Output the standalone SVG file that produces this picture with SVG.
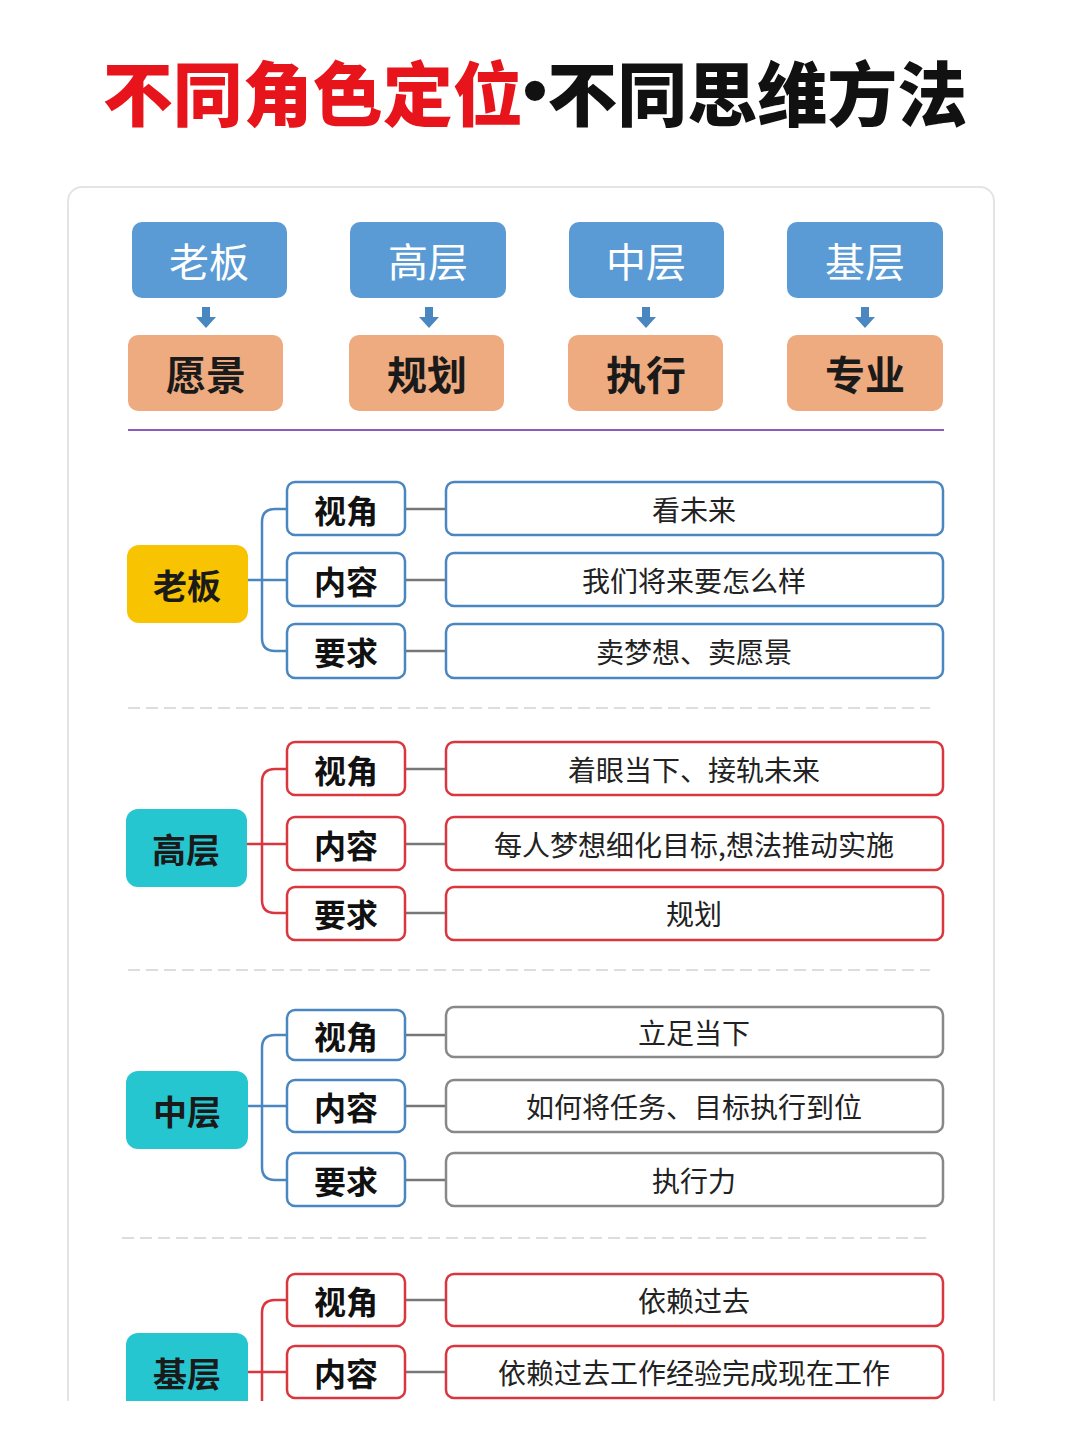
<svg xmlns="http://www.w3.org/2000/svg" width="1080" height="1440" viewBox="0 0 1080 1440">
<style>
text{font-family:"Noto Sans CJK SC","Liberation Sans",sans-serif;text-anchor:middle;dominant-baseline:central}
.title{font-size:70px;font-weight:900}
.top{fill:#5b9bd5}
.topt{fill:#fff;font-size:40px}
.or{fill:#eeab80}
.ort{fill:#1a1a1a;font-size:40px;font-weight:bold}
.cat{fill:#fff;stroke-width:2.5}
.catt{font-size:32px;font-weight:bold;fill:#111}
.cont{fill:#fff;stroke-width:2.5}
.contt{font-size:28px;fill:#222}
.lt{font-size:34px;font-weight:bold;fill:#1a1a1a}
.dash{stroke:#ddd;stroke-width:2;stroke-dasharray:12 6}
.b{stroke:#4a86c0}.r{stroke:#d9363e}.g{stroke:#888}
.tree{fill:none;stroke-width:2.5}
.link{stroke:#777;stroke-width:2.5}
.arr{fill:#4a86c0}
</style>
<rect width="1080" height="1440" fill="#fff"/>
<text class="title" y="90" x="535"><tspan fill="#e8141b">不同角色定位</tspan><tspan fill="#111" font-family="Liberation Sans,sans-serif">•</tspan><tspan fill="#111">不同思维方法</tspan></text>
<rect x="68" y="187" width="926" height="1280" rx="14" fill="#fff" stroke="#e4e4e4" stroke-width="2"/>

<g id="top-boss"><rect class="top" x="132" y="222" width="155" height="76" rx="10"/><text class="topt" x="209" y="260">老板</text></g>
<g id="top-high"><rect class="top" x="350" y="222" width="156" height="76" rx="10"/><text class="topt" x="428" y="260">高层</text></g>
<g id="top-mid"><rect class="top" x="569" y="222" width="155" height="76" rx="10"/><text class="topt" x="646" y="260">中层</text></g>
<g id="top-base"><rect class="top" x="787" y="222" width="156" height="76" rx="10"/><text class="topt" x="865" y="260">基层</text></g>
<g id="o1"><rect class="or" x="128" y="335" width="155" height="76" rx="10"/><text class="ort" x="206" y="373">愿景</text></g>
<g id="o2"><rect class="or" x="349" y="335" width="155" height="76" rx="10"/><text class="ort" x="427" y="373">规划</text></g>
<g id="o3"><rect class="or" x="568" y="335" width="155" height="76" rx="10"/><text class="ort" x="646" y="373">执行</text></g>
<g id="o4"><rect class="or" x="787" y="335" width="156" height="76" rx="10"/><text class="ort" x="865" y="373">专业</text></g>

<g id="connectors">
<path class="arr" d="M202,307h8v10h6l-10,11l-10,-11h6z"/>
<path class="arr" d="M425,307h8v10h6l-10,11l-10,-11h6z"/>
<path class="arr" d="M642,307h8v10h6l-10,11l-10,-11h6z"/>
<path class="arr" d="M861,307h8v10h6l-10,11l-10,-11h6z"/>
<line x1="128" y1="430" x2="944" y2="430" stroke="#8a5cc0" stroke-width="2"/>
<line class="dash" x1="128" y1="708" x2="930" y2="708"/>
<line class="dash" x1="128" y1="970" x2="930" y2="970"/>
<line class="dash" x1="122" y1="1238" x2="930" y2="1238"/>
<path class="tree b" d="M287,509 H275 Q262,509 262,522 V638 Q262,651 275,651 H287 M248,580 H287"/>
<path class="tree r" d="M287,769 H275 Q262,769 262,782 V900 Q262,913 275,913 H287 M247,844 H287"/>
<path class="tree b" d="M287,1035 H275 Q262,1035 262,1048 V1167 Q262,1180 275,1180 H287 M248,1106 H287"/>
<path class="tree r" d="M287,1300 H275 Q262,1300 262,1313 V1440 M248,1372 H287"/>
<g class="link">
<line x1="405" y1="509" x2="446" y2="509"/><line x1="405" y1="580" x2="446" y2="580"/><line x1="405" y1="651" x2="446" y2="651"/>
<line x1="405" y1="769" x2="446" y2="769"/><line x1="405" y1="844" x2="446" y2="844"/><line x1="405" y1="913" x2="446" y2="913"/>
<line x1="405" y1="1035" x2="446" y2="1035"/><line x1="405" y1="1106" x2="446" y2="1106"/><line x1="405" y1="1180" x2="446" y2="1180"/>
<line x1="405" y1="1300" x2="446" y2="1300"/><line x1="405" y1="1372" x2="446" y2="1372"/>
</g>
</g>

<g id="boss"><rect x="127" y="545" width="121" height="78" rx="12" fill="#f8c300"/><text class="lt" x="187" y="584">老板</text></g>
<g id="boss-1"><rect class="cat b" x="287" y="482" width="118" height="53" rx="8"/><text class="catt" x="346" y="509">视角</text><rect class="cont b" x="446" y="482" width="497" height="53" rx="8"/><text class="contt" x="694" y="509">看未来</text></g>
<g id="boss-2"><rect class="cat b" x="287" y="553" width="118" height="53" rx="8"/><text class="catt" x="346" y="580">内容</text><rect class="cont b" x="446" y="553" width="497" height="53" rx="8"/><text class="contt" x="694" y="580">我们将来要怎么样</text></g>
<g id="boss-3"><rect class="cat b" x="287" y="624" width="118" height="54" rx="8"/><text class="catt" x="346" y="651">要求</text><rect class="cont b" x="446" y="624" width="497" height="54" rx="8"/><text class="contt" x="694" y="651">卖梦想、卖愿景</text></g>

<g id="high"><rect x="126" y="809" width="121" height="78" rx="12" fill="#26c6d0"/><text class="lt" x="186" y="848">高层</text></g>
<g id="high-1"><rect class="cat r" x="287" y="742" width="118" height="53" rx="8"/><text class="catt" x="346" y="769">视角</text><rect class="cont r" x="446" y="742" width="497" height="53" rx="8"/><text class="contt" x="694" y="769">着眼当下、接轨未来</text></g>
<g id="high-2"><rect class="cat r" x="287" y="817" width="118" height="53" rx="8"/><text class="catt" x="346" y="844">内容</text><rect class="cont r" x="446" y="817" width="497" height="53" rx="8"/><text class="contt" x="694" y="844">每人梦想细化目标,想法推动实施</text></g>
<g id="high-3"><rect class="cat r" x="287" y="887" width="118" height="53" rx="8"/><text class="catt" x="346" y="913">要求</text><rect class="cont r" x="446" y="887" width="497" height="53" rx="8"/><text class="contt" x="694" y="913">规划</text></g>

<g id="mid"><rect x="126" y="1071" width="122" height="78" rx="12" fill="#26c6d0"/><text class="lt" x="187" y="1110">中层</text></g>
<g id="mid-1"><rect class="cat b" x="287" y="1010" width="118" height="50" rx="8"/><text class="catt" x="346" y="1035">视角</text><rect class="cont g" x="446" y="1007" width="497" height="50" rx="8"/><text class="contt" x="694" y="1032">立足当下</text></g>
<g id="mid-2"><rect class="cat b" x="287" y="1080" width="118" height="52" rx="8"/><text class="catt" x="346" y="1106">内容</text><rect class="cont g" x="446" y="1080" width="497" height="52" rx="8"/><text class="contt" x="694" y="1106">如何将任务、目标执行到位</text></g>
<g id="mid-3"><rect class="cat b" x="287" y="1153" width="118" height="53" rx="8"/><text class="catt" x="346" y="1180">要求</text><rect class="cont g" x="446" y="1153" width="497" height="53" rx="8"/><text class="contt" x="694" y="1180">执行力</text></g>

<g id="base"><rect x="126" y="1333" width="122" height="90" rx="12" fill="#26c6d0"/><text class="lt" x="187" y="1372">基层</text></g>
<g id="base-1"><rect class="cat r" x="287" y="1274" width="118" height="52" rx="8"/><text class="catt" x="346" y="1300">视角</text><rect class="cont r" x="446" y="1274" width="497" height="52" rx="8"/><text class="contt" x="694" y="1300">依赖过去</text></g>
<g id="base-2"><rect class="cat r" x="287" y="1346" width="118" height="52" rx="8"/><text class="catt" x="346" y="1372">内容</text><rect class="cont r" x="446" y="1346" width="497" height="52" rx="8"/><text class="contt" x="694" y="1372">依赖过去工作经验完成现在工作</text></g>
<rect x="0" y="1401" width="1080" height="39" fill="#fff"/>
</svg>
